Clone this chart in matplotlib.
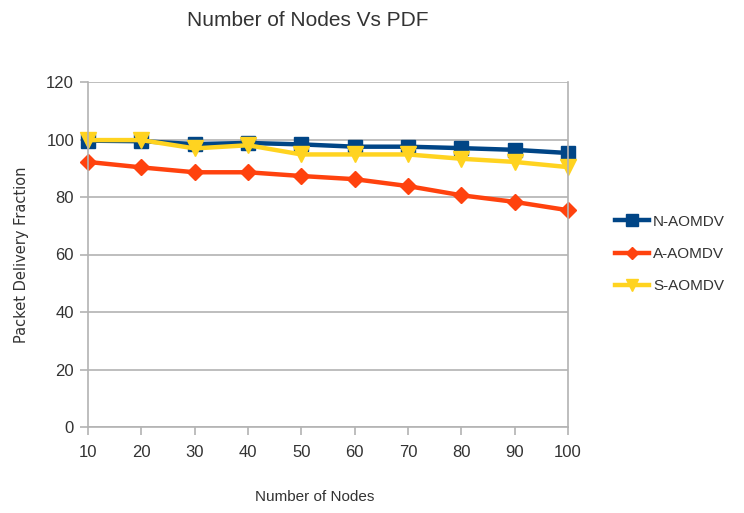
import matplotlib
matplotlib.use("Agg")
import matplotlib.pyplot as plt

nodes = [10, 20, 30, 40, 50, 60, 70, 80, 90, 100]
n_aomdv = [99.6, 99.4, 98.4, 98.8, 98.3, 97.5, 97.5, 97.0, 96.4, 95.3]
a_aomdv = [92.2, 90.3, 88.6, 88.6, 87.3, 86.2, 83.8, 80.6, 78.3, 75.4]
s_aomdv = [99.8, 99.8, 96.9, 98.0, 94.8, 94.8, 94.8, 93.3, 92.2, 90.4]
y_ticks = [0, 20, 40, 60, 80, 100, 120]

sans = ["Liberation Sans", "DejaVu Sans"]
grid_c = "#b3b3b3"
text_c = "#333333"

fig = plt.figure(figsize=(7.44, 5.13), dpi=100)
ax = fig.add_axes([88 / 744, 1 - 427 / 513, 480 / 744, 345 / 513])

series = [
    ("N-AOMDV", n_aomdv, "#004586", "s", 10),
    ("A-AOMDV", a_aomdv, "#ff420e", "D", 8),
    ("S-AOMDV", s_aomdv, "#ffd320", "v", 11),
]
for name, vals, col, mk, ms in series:
    ax.plot(nodes, vals, color=col, lw=3.2, marker=mk, markersize=ms,
            markeredgecolor=col, label=name, solid_joinstyle="round")

ax.set_xlim(10, 100)
ax.set_ylim(0, 120)
ax.set_xticks(nodes)
ax.set_yticks(y_ticks)
ax.yaxis.grid(True, color=grid_c, lw=1.2)
ax.set_axisbelow(True)
for s in ["left", "bottom", "right"]:
    ax.spines[s].set_color(grid_c)
    ax.spines[s].set_linewidth(1.2)
ax.spines["top"].set_visible(False)
ax.tick_params(axis="both", colors=grid_c, length=6, width=1.2, pad=4)
for lab in ax.get_xticklabels() + ax.get_yticklabels():
    lab.set_color(text_c)
    lab.set_fontfamily(sans)
    lab.set_fontsize(12)
ax.tick_params(axis="x", pad=7)

for line in ax.get_lines():
    line.set_clip_on(False)

fig.text(308 / 744, 1 - 20 / 513, "Number of Nodes Vs PDF", ha="center", va="center",
         fontsize=15, color=text_c, family=sans)
fig.text(315 / 744, 1 - 497 / 513, "Number of Nodes", ha="center", va="center",
         fontsize=11, color=text_c, family=sans)
fig.text(22 / 744, 1 - 255 / 513, "Packet Delivery Fraction", ha="center", va="center",
         rotation=90, fontsize=10.5, color=text_c, family=["DejaVu Sans"])

leg = fig.legend(loc="center left", bbox_to_anchor=(615 / 744, 1 - 254 / 513), frameon=False,
                 handlelength=2.2, handletextpad=0.3, labelspacing=1.2, markerscale=0.8,
                 borderaxespad=0, borderpad=0,
                 prop={"family": sans, "size": 11})
for t in leg.get_texts():
    t.set_color(text_c)

fig.savefig("out.png", dpi=100)
